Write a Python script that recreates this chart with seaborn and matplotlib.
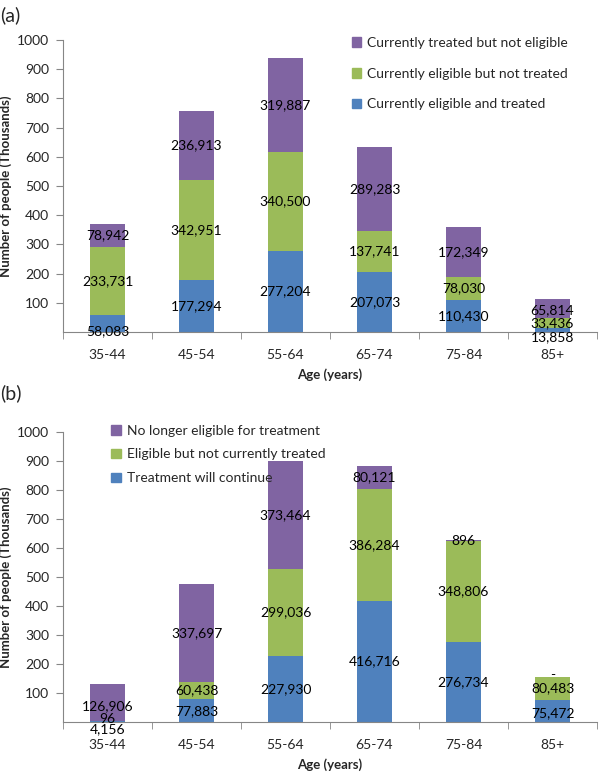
import numpy as np
import matplotlib
matplotlib.use('Agg')
import matplotlib.pyplot as plt
import seaborn as sns
from matplotlib.patches import Patch

# Datos
edades = ['35-44', '45-54', '55-64', '65-74', '75-84', '85+']

# (a) situación actual
a_elegible_tratado = [58083, 177294, 277204, 207073, 110430, 13858]
a_elegible_no_tratado = [233731, 342951, 340500, 137741, 78030, 33436]
a_tratado_no_elegible = [78942, 236913, 319887, 289283, 172349, 65814]
a_nombres = ['Currently eligible and treated',
             'Currently eligible but not treated',
             'Currently treated but not eligible']

# (b) tras el cambio
b_continua = [4156, 77883, 227930, 416716, 276734, 75472]
b_no_tratado = [96, 60438, 299036, 386284, 348806, 80483]
b_ya_no_elegible = [126906, 337697, 373464, 80121, 896, 0]
b_nombres = ['Treatment will continue',
             'Eligible but not currently treated',
             'No longer eligible for treatment']

colores = ['#4F81BD', '#9BBB59', '#8064A2']
gris = '#868686'

sns.set_style('ticks')
plt.rcParams['font.family'] = ['Lato', 'DejaVu Sans']


def dibujar_panel(ax, series, nombres, ajustes, legend_anchor, spacing):
    valores = np.array(series, dtype=float) / 1000
    acumulado = np.cumsum(valores, axis=0)
    # barras apiladas: se dibuja primero el total y luego las capas inferiores
    for i in reversed(range(len(series))):
        sns.barplot(x=edades, y=acumulado[i], order=edades, color=colores[i],
                    width=0.4, saturation=1, errorbar=None, ax=ax, linewidth=0)
    # etiquetas centradas en cada segmento
    for i, serie in enumerate(series):
        for j, v in enumerate(serie):
            y = acumulado[i][j] - valores[i][j] / 2
            texto = f'{v:,}' if v > 0 else '-'
            dy = ajustes.get((i, j), 0) * 0.72
            ax.annotate(texto, (j, y), xytext=(0, dy), textcoords='offset points',
                        ha='center', va='center', fontsize=10, color='black')

    ax.set_xlim(-0.5, 5.5)
    ax.set_ylim(0, 1000)
    ax.set_yticks(range(100, 1001, 100))
    ax.set_xticks(np.arange(-0.5, 6, 1), minor=True)
    ax.tick_params(axis='y', length=5, color=gris, pad=5, labelsize=10)
    ax.tick_params(axis='x', which='major', length=0, pad=12, labelsize=10)
    ax.tick_params(axis='x', which='minor', length=5, color=gris)
    sns.despine(ax=ax)
    for lado in ['left', 'bottom']:
        ax.spines[lado].set_color(gris)
    ax.set_xlabel('Age (years)', fontsize=9.5, fontweight='bold')
    ax.set_ylabel('Number of people (Thousands)', fontsize=9.5, fontweight='bold')
    ax.yaxis.set_label_coords(-0.095, 0.5)
    ax.xaxis.set_label_coords(0.5, -0.125)

    handles = [Patch(color=colores[i], label=nombres[i]) for i in reversed(range(3))]
    ax.legend(handles=handles, loc='upper left', bbox_to_anchor=legend_anchor,
              frameon=False, fontsize=10, handlelength=0.7, handleheight=0.7,
              handletextpad=0.4, labelspacing=spacing, borderaxespad=0)


fig = plt.figure(figsize=(6, 7.73), dpi=100)
ax_a = fig.add_axes([0.105, 0.5705, 0.89, 0.3777])
ax_b = fig.add_axes([0.105, 0.066, 0.89, 0.375])

dibujar_panel(ax_a, [a_elegible_tratado, a_elegible_no_tratado, a_tratado_no_elegible],
              a_nombres, {(0, 0): -8, (0, 5): -7, (2, 5): -2}, (0.53, 1.03), 1.35)
dibujar_panel(ax_b, [b_continua, b_no_tratado, b_ya_no_elegible],
              b_nombres, {(0, 0): -8, (1, 0): 2, (2, 0): -4, (0, 5): -2, (2, 5): 2},
              (0.08, 1.045), 0.85)

fig.text(0.0, 1 - 15 / 773, '(a)', fontsize=14, va='center', ha='left')
fig.text(0.0, 1 - 393 / 773, '(b)', fontsize=14, va='center', ha='left')

fig.savefig('out.png', dpi=100)
